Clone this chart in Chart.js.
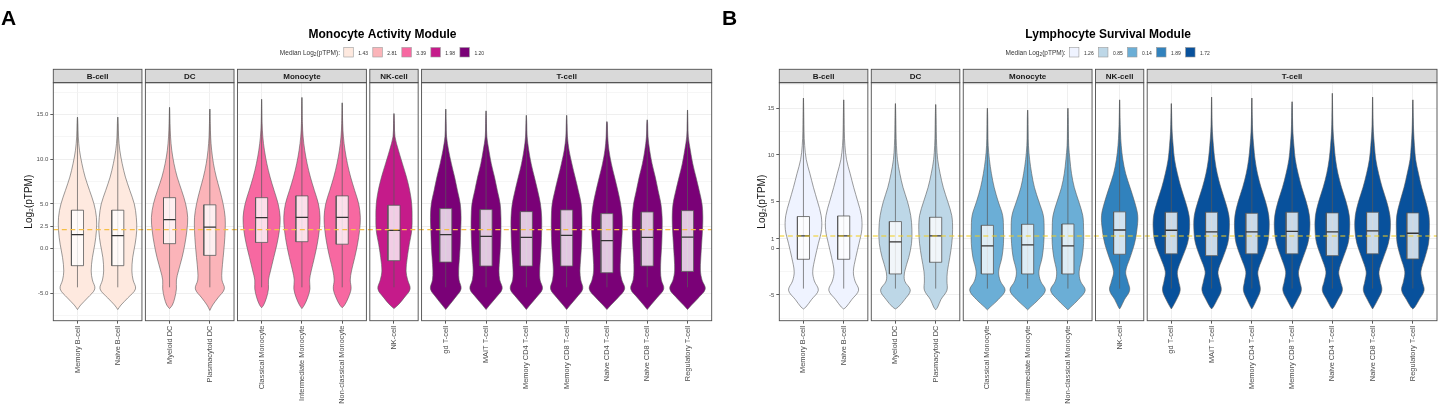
<!DOCTYPE html>
<html lang="en">
<head>
    <meta charset="UTF-8">
    <title>Module expression by immune cell type</title>
    <script src="https://cdn.jsdelivr.net/npm/chart.js@4.4.1/dist/chart.umd.min.js"></script>
    <style>
        html, body { margin: 0; padding: 0; background: #fff; }
        body { width: 1443px; height: 409px; position: relative; overflow: hidden; font-family: "Liberation Sans", Arial, sans-serif; }
        .panel { position: absolute; top: 0; height: 409px; }
        .tag { position: absolute; top: 7px; font-weight: bold; font-size: 21px; line-height: 22px; color: #000; }
    </style>
</head>
<body>
    <div class="panel" style="left:0;width:722px"><canvas id="chartA"></canvas></div>
    <div class="panel" style="left:722px;width:721px"><canvas id="chartB"></canvas></div>
    <div class="tag" style="left:1px">A</div>
    <div class="tag" style="left:722px">B</div>

    <script>
        // ---- data ----
        const cellGroups = ['B-cell', 'DC', 'Monocyte', 'NK-cell', 'T-cell'];
        const groupCounts = [2, 2, 3, 1, 7];
        const cellTypes = ['Memory B-cell', 'Naive B-cell', 'Myeloid DC', 'Plasmacytoid DC',
            'Classical Monocyte', 'Intermediate Monocyte', 'Non-classical Monocyte', 'NK-cell',
            'gd T-cell', 'MAIT T-cell', 'Memory CD4 T-cell', 'Memory CD8 T-cell',
            'Naive CD4 T-cell', 'Naive CD8 T-cell', 'Regulatory T-cell'];

        // y levels at which the violin half-widths were read
        const densityLevels = [-6.3, -5.5, -4.5, -3.5, -2.5, -1, 0.5, 2, 3.5, 5, 6.5, 8, 9.5, 11, 12.5, 14];
        const whiskerLow = -4.32;

        // panel A: Monocyte Activity Module
        const monoTitle = 'Monocyte Activity Module';
        const monoLegend = [1.43, 2.81, 3.39, 1.98, 1.20];
        const monoRef = 2.13;
        const monoTicks = [-5, 0, 2.5, 5, 10, 15];
        const monoTickLabels = ['-5.0', '0.0', '2.5', '5.0', '10.0', '15.0'];
        const monoMinor = [-7.5, -2.5, 7.5, 12.5, 17.5];
        const monoQ1 = [-1.9, -1.9, 0.56, -0.75, 0.7, 0.78, 0.5, -1.34, -1.5, -1.94, -1.94, -1.94, -2.69, -1.94, -2.54];
        const monoMedian = [1.57, 1.45, 3.25, 2.4, 3.47, 3.5, 3.5, 2.05, 1.57, 1.38, 1.27, 1.49, 0.9, 1.27, 1.3];
        const monoQ3 = [4.3, 4.3, 5.7, 4.9, 5.7, 5.9, 5.9, 4.85, 4.48, 4.37, 4.14, 4.33, 3.92, 4.1, 4.25];
        const monoMin = [-6.8, -6.8, -6.7, -6.9, -6.6, -6.7, -6.6, -6.7, -6.8, -6.8, -6.8, -6.8, -6.8, -6.8, -6.8];
        const monoMax = [14.7, 14.7, 15.8, 15.6, 16.7, 16.9, 16.3, 15.1, 15.6, 15.4, 14.9, 14.9, 14.2, 14.4, 15.5];
        const monoWidths = [
            [0.08, 0.25, 0.43, 0.37, 0.34, 0.37, 0.43, 0.47, 0.47, 0.41, 0.30, 0.19, 0.11, 0.05, 0.02, 0.01],
            [0.08, 0.25, 0.44, 0.38, 0.35, 0.37, 0.43, 0.47, 0.46, 0.41, 0.30, 0.19, 0.11, 0.05, 0.02, 0.01],
            [0.07, 0.13, 0.17, 0.17, 0.22, 0.31, 0.38, 0.43, 0.45, 0.40, 0.30, 0.19, 0.11, 0.055, 0.025, 0.012],
            [0.07, 0.20, 0.36, 0.30, 0.30, 0.33, 0.36, 0.38, 0.38, 0.33, 0.25, 0.16, 0.09, 0.045, 0.02, 0.01],
            [0.05, 0.12, 0.17, 0.17, 0.22, 0.30, 0.38, 0.44, 0.46, 0.41, 0.31, 0.21, 0.13, 0.07, 0.03, 0.012],
            [0.06, 0.14, 0.20, 0.19, 0.23, 0.31, 0.38, 0.43, 0.45, 0.41, 0.31, 0.21, 0.13, 0.07, 0.03, 0.012],
            [0.06, 0.15, 0.22, 0.20, 0.23, 0.31, 0.38, 0.43, 0.45, 0.41, 0.31, 0.21, 0.13, 0.07, 0.03, 0.012],
            [0.10, 0.25, 0.40, 0.34, 0.30, 0.33, 0.38, 0.44, 0.45, 0.44, 0.39, 0.31, 0.21, 0.11, 0.025, 0.01],
            [0.09, 0.23, 0.38, 0.33, 0.32, 0.34, 0.36, 0.37, 0.38, 0.36, 0.29, 0.22, 0.14, 0.07, 0.02, 0.01],
            [0.09, 0.24, 0.40, 0.34, 0.32, 0.34, 0.36, 0.37, 0.37, 0.35, 0.28, 0.21, 0.13, 0.07, 0.02, 0.01],
            [0.09, 0.24, 0.40, 0.34, 0.33, 0.35, 0.37, 0.38, 0.38, 0.35, 0.28, 0.20, 0.12, 0.06, 0.02, 0.01],
            [0.09, 0.24, 0.40, 0.35, 0.33, 0.35, 0.37, 0.38, 0.38, 0.36, 0.29, 0.21, 0.13, 0.06, 0.02, 0.01],
            [0.10, 0.27, 0.44, 0.37, 0.33, 0.34, 0.36, 0.38, 0.38, 0.34, 0.27, 0.19, 0.11, 0.05, 0.02, 0.01],
            [0.09, 0.24, 0.41, 0.35, 0.33, 0.34, 0.36, 0.37, 0.37, 0.34, 0.27, 0.20, 0.12, 0.06, 0.02, 0.01],
            [0.10, 0.27, 0.44, 0.36, 0.32, 0.33, 0.35, 0.37, 0.38, 0.36, 0.29, 0.21, 0.13, 0.07, 0.02, 0.01]
        ];

        // panel B: Lymphocyte Survival Module
        const lymphTitle = 'Lymphocyte Survival Module';
        const lymphLegend = [1.26, 0.85, 0.14, 1.89, 1.72];
        const lymphRef = 1.32;
        const lymphTicks = [-5, 0, 1, 5, 10, 15];
        const lymphTickLabels = ['-5', '0', '1', '5', '10', '15'];
        const lymphMinor = [-7.5, -2.5, 2.5, 7.5, 12.5, 17.5];
        const lymphQ1 = [-1.18, -1.18, -2.75, -1.5, -2.75, -2.75, -2.75, -0.64, -0.6, -0.79, -0.6, -0.6, -0.79, -0.6, -1.14];
        const lymphMedian = [1.32, 1.32, 0.68, 1.32, 0.25, 0.36, 0.25, 1.96, 1.93, 1.75, 1.75, 1.82, 1.75, 1.86, 1.61];
        const lymphQ3 = [3.4, 3.46, 2.86, 3.32, 2.46, 2.57, 2.6, 3.9, 3.86, 3.86, 3.75, 3.86, 3.79, 3.86, 3.79];
        const lymphMin = [-6.5, -6.5, -6.5, -6.6, -6.6, -6.6, -6.6, -6.5, -6.5, -6.5, -6.5, -6.5, -6.5, -6.5, -6.5];
        const lymphMax = [16.1, 15.9, 15.5, 15.4, 15.0, 14.8, 15.0, 15.9, 15.5, 16.2, 16.1, 15.7, 16.6, 16.2, 15.9];
        const lymphWidths = [
            [0.06, 0.20, 0.37, 0.27, 0.23, 0.29, 0.37, 0.45, 0.44, 0.35, 0.25, 0.16, 0.07, 0.03, 0.015, 0.01],
            [0.06, 0.20, 0.37, 0.28, 0.24, 0.30, 0.38, 0.45, 0.44, 0.35, 0.25, 0.16, 0.07, 0.03, 0.015, 0.01],
            [0.07, 0.23, 0.37, 0.23, 0.23, 0.33, 0.40, 0.41, 0.38, 0.30, 0.19, 0.11, 0.05, 0.025, 0.015, 0.01],
            [0.05, 0.13, 0.28, 0.28, 0.29, 0.35, 0.40, 0.42, 0.40, 0.30, 0.19, 0.11, 0.05, 0.025, 0.015, 0.01],
            [0.07, 0.27, 0.44, 0.32, 0.28, 0.36, 0.40, 0.40, 0.38, 0.27, 0.17, 0.10, 0.05, 0.02, 0.012, 0.008],
            [0.07, 0.27, 0.44, 0.32, 0.28, 0.36, 0.40, 0.41, 0.39, 0.28, 0.17, 0.10, 0.05, 0.02, 0.012, 0.008],
            [0.07, 0.26, 0.43, 0.31, 0.28, 0.35, 0.39, 0.39, 0.37, 0.27, 0.16, 0.09, 0.05, 0.02, 0.012, 0.008],
            [0.03, 0.12, 0.25, 0.20, 0.15, 0.26, 0.37, 0.43, 0.45, 0.37, 0.26, 0.15, 0.08, 0.04, 0.02, 0.01],
            [0.03, 0.13, 0.22, 0.18, 0.15, 0.27, 0.40, 0.45, 0.44, 0.35, 0.24, 0.15, 0.08, 0.045, 0.02, 0.01],
            [0.04, 0.14, 0.24, 0.20, 0.16, 0.28, 0.40, 0.44, 0.43, 0.34, 0.23, 0.14, 0.08, 0.045, 0.02, 0.01],
            [0.03, 0.12, 0.21, 0.18, 0.15, 0.27, 0.39, 0.43, 0.42, 0.34, 0.23, 0.14, 0.08, 0.045, 0.02, 0.01],
            [0.03, 0.13, 0.23, 0.19, 0.16, 0.27, 0.39, 0.44, 0.43, 0.35, 0.24, 0.15, 0.08, 0.045, 0.02, 0.01],
            [0.04, 0.14, 0.25, 0.20, 0.16, 0.27, 0.39, 0.43, 0.42, 0.34, 0.23, 0.14, 0.08, 0.045, 0.02, 0.01],
            [0.03, 0.13, 0.23, 0.19, 0.16, 0.27, 0.39, 0.44, 0.43, 0.35, 0.24, 0.15, 0.08, 0.045, 0.02, 0.01],
            [0.05, 0.16, 0.28, 0.23, 0.20, 0.30, 0.39, 0.41, 0.40, 0.32, 0.22, 0.14, 0.07, 0.04, 0.02, 0.01]
        ];

        // ---- styling / layout ----
        const FONT = '"Liberation Sans", Arial, sans-serif';
        Chart.defaults.font.family = FONT;
        const monoColors = ['#fee9df', '#fbb4b9', '#f768a1', '#c51b8a', '#7a0177'];
        const lymphColors = ['#eff3ff', '#bdd7e7', '#6baed6', '#3182bd', '#08519c'];
        const GAP = 0.085;        // space between facets, in x units
        const BOX_HALF = 0.15;    // half box width, in x units
        const STRIP_H = 13.4;
        const PLOT_TOP = 82.7;
        const PLOT_BOTTOM = 320.7;
        const LINE = '#595959';

        // facets laid out on one continuous linear x axis
        const facetStart = [];
        const centers = [];
        const groupOf = [];
        let acc = 0;
        groupCounts.forEach((n, k) => {
            facetStart.push(acc);
            for (let j = 0; j < n; j++) {
                centers.push(acc + 0.6 + j);
                groupOf.push(k);
            }
            acc += n + 0.2 + GAP;
        });
        const xMax = acc - GAP;

        // closed outline: bottom tip, right side up, top tip, left side down
        function violinPath(c, lo, hi, w) {
            const pts = [{ x: c, y: lo }];
            densityLevels.forEach((l, k) => {
                if (l > lo && l < hi) pts.push({ x: c + w[k], y: l });
            });
            pts.push({ x: c, y: hi });
            for (let k = densityLevels.length - 1; k >= 0; k--) {
                const l = densityLevels[k];
                if (l > lo && l < hi) pts.push({ x: c - w[k], y: l });
            }
            pts.push({ x: c, y: lo });
            return pts;
        }

        function buildDatasets(p) {
            const ds = [];
            centers.forEach((c, i) => {
                ds.push({
                    data: violinPath(c, p.min[i], p.max[i], p.widths[i]),
                    fill: 'shape', backgroundColor: p.colors[groupOf[i]],
                    borderColor: LINE, borderWidth: 0.6, tension: 0.35, order: 4
                });
                ds.push({
                    data: [{ x: c, y: whiskerLow }, { x: c, y: p.max[i] }],
                    borderColor: LINE, borderWidth: 0.7, order: 3
                });
                ds.push({
                    data: [
                        { x: c - BOX_HALF, y: p.q1[i] }, { x: c + BOX_HALF, y: p.q1[i] },
                        { x: c + BOX_HALF, y: p.q3[i] }, { x: c - BOX_HALF, y: p.q3[i] },
                        { x: c - BOX_HALF, y: p.q1[i] }
                    ],
                    fill: 'shape', backgroundColor: 'rgba(255,255,255,0.78)',
                    borderColor: LINE, borderWidth: 0.8, order: 2
                });
                ds.push({
                    data: [{ x: c - BOX_HALF, y: p.median[i] }, { x: c + BOX_HALF, y: p.median[i] }],
                    borderColor: '#333', borderWidth: 1.3, order: 1
                });
            });
            ds.push({
                data: [{ x: 0, y: p.ref }, { x: xMax, y: p.ref }],
                borderColor: p.refColor, borderWidth: 1.1, borderDash: [5, 3.5], order: 0
            });
            return ds;
        }

        // facet frames, strips, title and legend
        const facetPlugin = {
            id: 'facets',
            beforeDatasetsDraw(chart) {
                const { ctx, chartArea: a, scales: { x } } = chart;
                ctx.save();
                ctx.fillStyle = '#fff';
                for (let k = 1; k < facetStart.length; k++) {
                    const x0 = x.getPixelForValue(facetStart[k] - GAP);
                    const x1 = x.getPixelForValue(facetStart[k]);
                    ctx.fillRect(x0, a.top, x1 - x0, a.bottom - a.top);
                }
                ctx.restore();
            },
            afterDatasetsDraw(chart) {
                const { ctx, chartArea: a, scales: { x } } = chart;
                ctx.save();
                facetStart.forEach((s, k) => {
                    const x0 = x.getPixelForValue(s);
                    const x1 = x.getPixelForValue(s + groupCounts[k] + 0.2);
                    ctx.fillStyle = '#d9d9d9';
                    ctx.fillRect(x0, a.top - STRIP_H, x1 - x0, STRIP_H);
                    ctx.strokeStyle = '#4d4d4d';
                    ctx.lineWidth = 0.9;
                    ctx.strokeRect(x0, a.top - STRIP_H, x1 - x0, STRIP_H);
                    ctx.strokeRect(x0, a.top, x1 - x0, a.bottom - a.top);
                    ctx.fillStyle = '#1a1a1a';
                    ctx.font = 'bold 8px ' + FONT;
                    ctx.textAlign = 'center';
                    ctx.textBaseline = 'middle';
                    ctx.fillText(cellGroups[k], (x0 + x1) / 2, a.top - STRIP_H / 2 + 0.5);
                });
                ctx.restore();
            },
            afterDraw(chart, args, opts) {
                const { ctx, chartArea: a } = chart;
                const mid = (a.left + a.right) / 2;
                ctx.save();
                ctx.fillStyle = '#000';
                ctx.font = 'bold 12px ' + FONT;
                ctx.textAlign = 'center';
                ctx.textBaseline = 'alphabetic';
                ctx.fillText(opts.title, mid, 37.5);

                // legend row: "Median Log2(pTPM):" then coloured keys
                const big = '6.5px ' + FONT, sub = '4.8px ' + FONT, small = '5px ' + FONT;
                const parts = [['Median Log', big, 0], ['2', sub, 1.8], ['(pTPM):', big, 0]];
                let prefixW = 0;
                parts.forEach(p => { ctx.font = p[1]; prefixW += ctx.measureText(p[0]).width; });
                ctx.font = small;
                const labels = opts.values.map(v => v.toFixed(2));
                const key = 9.5;
                let itemsW = 0;
                labels.forEach(t => { itemsW += 3.8 + key + 5 + ctx.measureText(t).width + 1; });
                let cx = mid - (prefixW + itemsW) / 2;
                const baseY = 54.5;
                ctx.textAlign = 'left';
                ctx.fillStyle = '#333';
                parts.forEach(p => {
                    ctx.font = p[1];
                    ctx.fillText(p[0], cx, baseY + p[2]);
                    cx += ctx.measureText(p[0]).width;
                });
                labels.forEach((t, k) => {
                    cx += 3.8;
                    ctx.fillStyle = opts.colors[k];
                    ctx.fillRect(cx, 47.5, key, key);
                    ctx.strokeStyle = '#9a9a9a';
                    ctx.lineWidth = 0.6;
                    ctx.strokeRect(cx, 47.5, key, key);
                    cx += key + 5;
                    ctx.font = small;
                    ctx.fillStyle = '#333';
                    ctx.fillText(t, cx, baseY);
                    cx += ctx.measureText(t).width + 1;
                });
                ctx.restore();
            }
        };

        function makeChart(id, p) {
            const gridVals = p.ticks.concat(p.minor).sort((a, b) => a - b);
            const isMajor = v => p.ticks.indexOf(v) >= 0;
            return new Chart(document.getElementById(id), {
                type: 'line',
                data: { datasets: buildDatasets(p) },
                plugins: [facetPlugin],
                options: {
                    responsive: true,
                    maintainAspectRatio: false,
                    animation: false,
                    events: [],
                    layout: { padding: { top: PLOT_TOP, right: p.padRight, bottom: 0, left: 0 } },
                    elements: { point: { radius: 0, hitRadius: 0 } },
                    plugins: {
                        legend: { display: false },
                        tooltip: { enabled: false },
                        facets: { title: p.title, values: p.legend, colors: p.colors }
                    },
                    scales: {
                        x: {
                            type: 'linear', min: 0, max: xMax,
                            afterBuildTicks: s => { s.ticks = centers.map(v => ({ value: v })); },
                            afterFit: s => { s.height = 409 - PLOT_BOTTOM; },
                            ticks: {
                                callback: (v, i) => cellTypes[i],
                                autoSkip: false, minRotation: 90, maxRotation: 90,
                                font: { size: 7.4 }, color: '#4d4d4d', padding: 2
                            },
                            grid: { color: '#ebebeb', lineWidth: 0.8, tickColor: '#333', tickLength: 3 },
                            border: { display: false }
                        },
                        y: {
                            min: p.yMin, max: p.yMax,
                            afterBuildTicks: s => { s.ticks = gridVals.map(v => ({ value: v })); },
                            afterFit: s => { s.width = p.axisWidth; },
                            ticks: {
                                callback: v => isMajor(v) ? p.tickLabels[p.ticks.indexOf(v)] : '',
                                autoSkip: false, font: { size: 6 }, color: '#4d4d4d', padding: 2
                            },
                            grid: {
                                color: c => isMajor(c.tick.value) ? '#ebebeb' : '#f4f4f4',
                                tickColor: c => isMajor(c.tick.value) ? '#333' : 'rgba(0,0,0,0)',
                                lineWidth: 0.8, tickLength: 3
                            },
                            border: { display: false },
                            title: {
                                display: true, text: 'Log\u2082(pTPM)', color: '#1a1a1a',
                                font: { size: 10 }, padding: { top: p.titlePad, bottom: 0 }
                            }
                        }
                    }
                }
            });
        }

        makeChart('chartA', {
            title: monoTitle, legend: monoLegend, colors: monoColors, refColor: '#f6bf45', ref: monoRef,
            ticks: monoTicks, tickLabels: monoTickLabels, minor: monoMinor,
            q1: monoQ1, median: monoMedian, q3: monoQ3, min: monoMin, max: monoMax, widths: monoWidths,
            yMin: -8.05, yMax: 18.55, axisWidth: 53.3, padRight: 10.3, titlePad: 23.5
        });

        makeChart('chartB', {
            title: lymphTitle, legend: lymphLegend, colors: lymphColors, refColor: '#f2cd1c', ref: lymphRef,
            ticks: lymphTicks, tickLabels: lymphTickLabels, minor: lymphMinor,
            q1: lymphQ1, median: lymphMedian, q3: lymphQ3, min: lymphMin, max: lymphMax, widths: lymphWidths,
            yMin: -7.76, yMax: 17.74, axisWidth: 57.3, padRight: 6, titlePad: 34.5
        });
    </script>
</body>
</html>
